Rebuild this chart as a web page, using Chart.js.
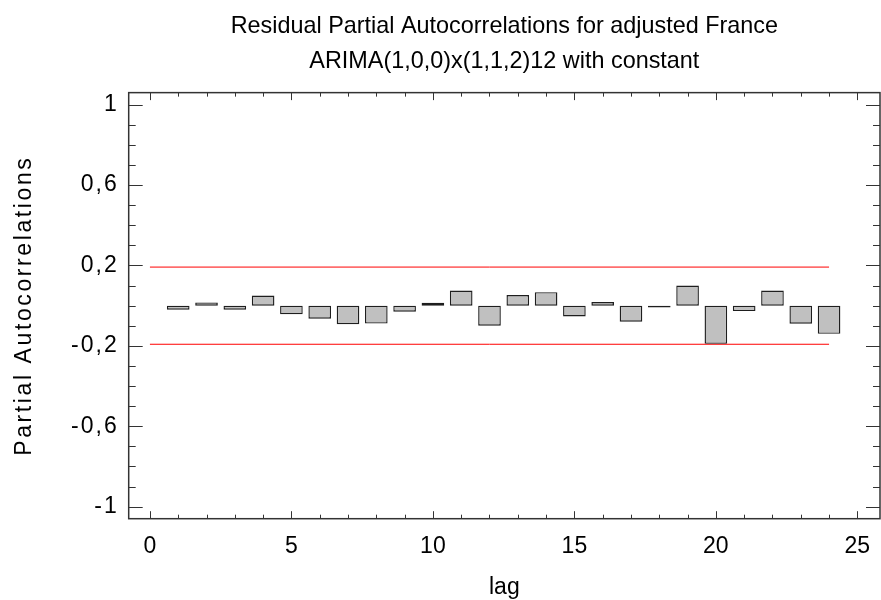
<!DOCTYPE html>
<html>
<head>
<meta charset="utf-8">
<title>Residual Partial Autocorrelations</title>
<script src="https://cdn.jsdelivr.net/npm/chart.js@4.4.1/dist/chart.umd.min.js"></script>
<style>
  html, body { margin: 0; padding: 0; background: #fff; }
  #wrap { width: 881px; height: 600px; }
</style>
</head>
<body>
<div id="wrap"><canvas id="pacf-chart" width="881" height="600"></canvas></div>
<script>
// Data
const lags = [1, 2, 3, 4, 5, 6, 7, 8, 9, 10, 11, 12, 13, 14, 15, 16, 17, 18, 19, 20, 21, 22, 23, 24];
const pacf = [-0.02, 0.016, -0.02, 0.05, -0.043, -0.065, -0.092, -0.089, -0.03, 0.014, 0.075, -0.10,
              0.053, 0.067, -0.054, 0.018, -0.08, -0.009, 0.10, -0.19, -0.027, 0.075, -0.09, -0.14];
const limitLags = [0, 24];
const upperLimit = [0.192, 0.192];
const lowerLimit = [-0.192, -0.192];
const xTickValues = [0, 5, 10, 15, 20, 25];
const yTickValues = [-1, -0.6, -0.2, 0.2, 0.6, 1];
const yTickLabels = ["-1", "-0,6", "-0,2", "0,2", "0,6", "1"];

const FONT = "'Liberation Sans', Arial, sans-serif";
const INK = "#333";

// frame + inward tick marks, like the original statgraphics plot
const framePlugin = {
  id: "frame",
  beforeDraw(chart) {
    // the original y title and y labels are set wider than plain Arial
    const y = chart.scales.y;
    if (y._spaced) return;
    const wrap = (name, sp) => {
      const orig = y[name];
      y[name] = function (...args) {
        this.ctx.save();
        this.ctx.letterSpacing = sp;
        orig.apply(this, args);
        this.ctx.restore();
      };
    };
    wrap("drawTitle", "2.6px");
    wrap("drawLabels", "2px");
    y._spaced = true;
  },
  afterDraw(chart) {
    const { ctx, chartArea: a, scales: { x, y } } = chart;
    ctx.save();
    ctx.strokeStyle = INK;
    ctx.lineWidth = 1.5;
    ctx.strokeRect(a.left, a.top, a.right - a.left, a.bottom - a.top);
    ctx.lineWidth = 1;
    ctx.beginPath();
    for (let v = 0; v <= 25; v++) {
      const px = Math.round(x.getPixelForValue(v)) + 0.5;
      const len = v % 5 === 0 ? 7.5 : 4;
      ctx.moveTo(px, a.bottom); ctx.lineTo(px, a.bottom - len);
      ctx.moveTo(px, a.top);    ctx.lineTo(px, a.top + len);
    }
    for (let i = -10; i <= 10; i++) {
      const py = Math.round(y.getPixelForValue(i / 10)) + 0.5;
      const len = (i + 10) % 4 === 0 ? 14 : 7;
      ctx.moveTo(a.left, py);  ctx.lineTo(a.left + len, py);
      ctx.moveTo(a.right, py); ctx.lineTo(a.right - len, py);
    }
    ctx.stroke();
    ctx.restore();
  }
};

const limitLine = (vals) => ({
  type: "line",
  data: limitLags.map((l, i) => ({ x: l, y: vals[i] })),
  borderColor: "#ff0000",
  borderWidth: 1,
  pointRadius: 0,
  fill: false
});

new Chart(document.getElementById("pacf-chart"), {
  type: "bar",
  data: {
    datasets: [
      {
        data: lags.map((l, i) => ({ x: l, y: pacf[i] })),
        backgroundColor: "#c0c0c0",
        borderColor: "#1e1e1e",
        borderWidth: 1.4,
        borderSkipped: false,
        categoryPercentage: 1,
        barPercentage: 0.8
      },
      limitLine(upperLimit),
      limitLine(lowerLimit)
    ]
  },
  options: {
    responsive: false,
    animation: false,
    devicePixelRatio: 1,
    layout: { padding: { left: 0, right: 1, top: 0, bottom: 0 } },
    plugins: {
      legend: { display: false },
      tooltip: { enabled: false },
      title: {
        display: true,
        fullSize: false,
        text: ["Residual Partial Autocorrelations for adjusted France",
               "ARIMA(1,0,0)x(1,1,2)12 with constant"],
        color: "#000",
        font: { family: FONT, size: 23.4, weight: "normal", lineHeight: 1.52 },
        padding: { top: 8.5, bottom: 13 }
      }
    },
    scales: {
      x: {
        type: "linear",
        min: -0.75,
        max: 25.8,
        offset: false,
        grid: { display: false, drawTicks: false },
        border: { display: false },
        afterBuildTicks: s => { s.ticks = xTickValues.map(v => ({ value: v })); },
        afterFit: s => { s.height = 81.3; s.paddingLeft = 0; s.paddingRight = 0; },
        ticks: {
          color: "#000",
          padding: 14,
          font: { family: FONT, size: 23 },
          callback: v => String(v)
        },
        title: {
          display: true,
          text: "lag",
          color: "#000",
          font: { family: FONT, size: 23, lineHeight: 1 },
          padding: { top: 0, bottom: 0.8 }
        }
      },
      y: {
        min: -1.06,
        max: 1.06,
        grid: { display: false, drawTicks: false },
        border: { display: false },
        afterBuildTicks: s => { s.ticks = yTickValues.map(v => ({ value: v })); },
        afterFit: s => { s.width = 128.7; s.paddingTop = 0; s.paddingBottom = 0; },
        ticks: {
          color: "#000",
          padding: 10,
          font: { family: FONT, size: 23 },
          callback: (v, i) => yTickLabels[i]
        },
        title: {
          display: true,
          text: "Partial Autocorrelations",
          color: "#000",
          font: { family: FONT, size: 23 },
          padding: { top: 11, bottom: 0 }
        }
      }
    }
  },
  plugins: [framePlugin]
});
</script>
</body>
</html>
